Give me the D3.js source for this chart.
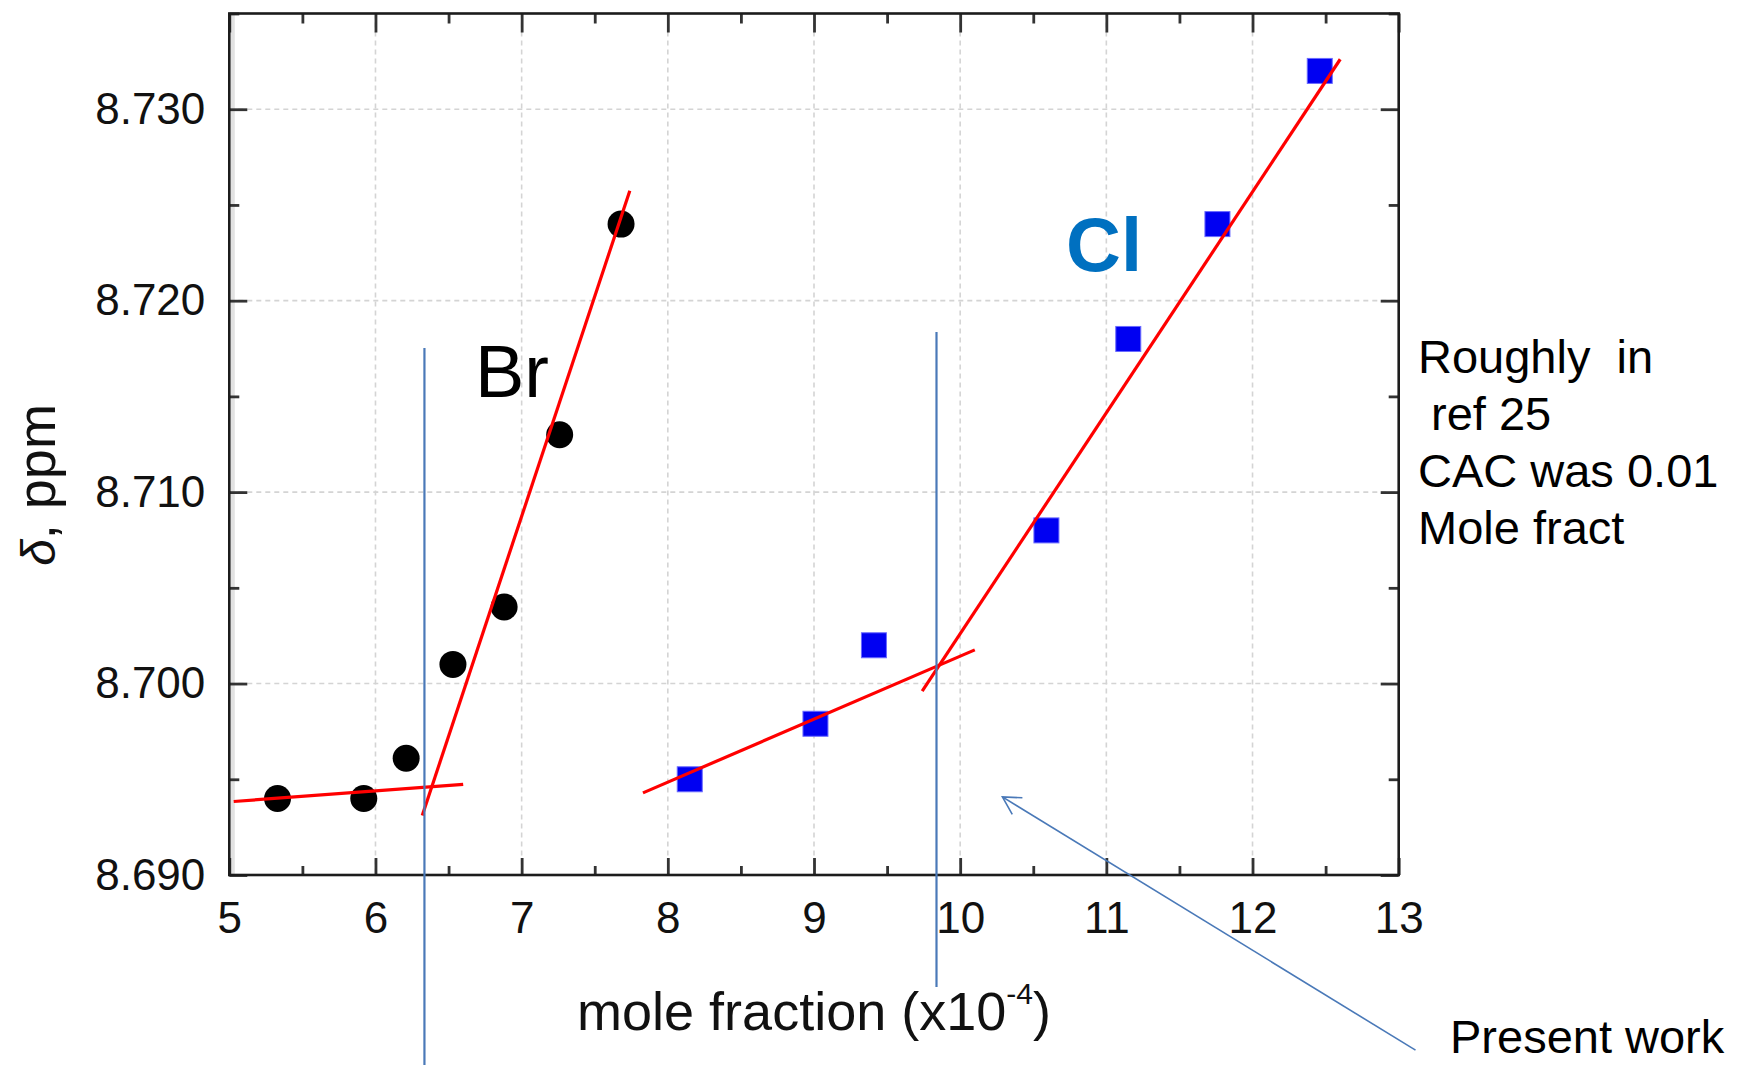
<!DOCTYPE html>
<html>
<head>
<meta charset="utf-8">
<script src="https://cdn.jsdelivr.net/npm/d3@7"></script>
<style>
  html, body { margin: 0; padding: 0; background: #ffffff; }
  svg { display: block; }
  text { font-family: "Liberation Sans", Arial, Helvetica, sans-serif; }
</style>
</head>
<body>
<svg id="chart" width="1737" height="1065"></svg>
<script>
// Axis ticks
const xTicks = [5, 6, 7, 8, 9, 10, 11, 12, 13];
const yTicks = [8.690, 8.700, 8.710, 8.720, 8.730];
const xMinorTicks = [5.5, 6.5, 7.5, 8.5, 9.5, 10.5, 11.5, 12.5];
const yMinorTicks = [8.695, 8.705, 8.715, 8.725, 8.735];

// Chemical shift vs. mole fraction (x10^-4)
const brX = [5.33, 5.92, 6.21, 6.53, 6.88, 7.26, 7.68];
const brY = [8.6940, 8.6940, 8.6961, 8.7010, 8.7040, 8.7130, 8.7240];
const clX = [8.15, 9.01, 9.41, 10.59, 11.15, 11.76, 12.46];
const clY = [8.6950, 8.6979, 8.7020, 8.7080, 8.7180, 8.7240, 8.7320];

// Linear fits below and above the break (endpoints as [x, y])
const brLowFit  = [[5.03, 8.69384], [6.60, 8.69473]];
const brHighFit = [[6.32, 8.69311], [7.74, 8.72574]];
const clLowFit  = [[7.83, 8.69429], [10.10, 8.70176]];
const clHighFit = [[9.74, 8.69960], [12.60, 8.73261]];

// CAC markers: x position and vertical extent
const cacX      = [6.335, 9.838];
const cacTop    = [8.71753, 8.71836];
const cacBottom = [8.68007, 8.68415];

// Pointer from the "Present work" note (tail -> head)
const arrowFrom = [13.115, 8.68085];
const arrowTo   = [10.289, 8.69408];

const noteLines = ["Roughly  in", " ref 25", "CAC was 0.01", "Mole fract"];

const svg = d3.select("#chart");

const x = d3.scaleLinear().domain([5, 13]).range([229.3, 1398.7]);
const y = d3.scaleLinear().domain([8.690, 8.735]).range([875, 13.5]);

const [x0, x1] = x.range();
const [y0, y1] = y.range();

// Grid
const grid = svg.append("g").attr("class", "grid")
  .attr("stroke", "#d4d4d4").attr("stroke-width", 1.6).attr("stroke-dasharray", "5,4");
grid.selectAll("line.v").data(xTicks.slice(1, -1)).join("line")
  .attr("class", "v")
  .attr("x1", d => x(d)).attr("x2", d => x(d))
  .attr("y1", y1).attr("y2", y0);
grid.selectAll("line.h").data(yTicks.slice(1)).join("line")
  .attr("class", "h")
  .attr("x1", x0).attr("x2", x1)
  .attr("y1", d => y(d)).attr("y2", d => y(d));

// Faint inner shade along the left spine
svg.append("line")
  .attr("x1", x0 + 3.5).attr("x2", x0 + 3.5)
  .attr("y1", y1).attr("y2", y0)
  .attr("stroke", "#e2e2e2").attr("stroke-width", 4);

// Axes with inward ticks on all four sides
function styleAxis(g) {
  g.select(".domain").remove();
  g.selectAll(".tick line").attr("stroke", "#333").attr("stroke-width", 2.8);
  g.selectAll(".tick text")
    .attr("fill", "#111")
    .style("font-family", "'Liberation Sans', Arial, sans-serif")
    .style("font-size", "44px");
}

svg.append("g").attr("transform", `translate(0,${y0})`)
  .call(d3.axisBottom(x).tickValues(xTicks).tickFormat(d3.format("d")).tickSize(-17).tickPadding(27))
  .call(styleAxis);
svg.append("g").attr("transform", `translate(0,${y0})`)
  .call(d3.axisBottom(x).tickValues(xMinorTicks).tickFormat("").tickSize(-9))
  .call(styleAxis);
svg.append("g").attr("transform", `translate(0,${y1})`)
  .call(d3.axisTop(x).tickValues(xTicks).tickFormat("").tickSize(-19))
  .call(styleAxis);
svg.append("g").attr("transform", `translate(0,${y1})`)
  .call(d3.axisTop(x).tickValues(xMinorTicks).tickFormat("").tickSize(-10))
  .call(styleAxis);

svg.append("g").attr("transform", `translate(${x0},0)`)
  .call(d3.axisLeft(y).tickValues(yTicks).tickFormat(d3.format(".3f")).tickSize(-18).tickPadding(24))
  .call(styleAxis);
svg.append("g").attr("transform", `translate(${x0},0)`)
  .call(d3.axisLeft(y).tickValues(yMinorTicks).tickFormat("").tickSize(-10))
  .call(styleAxis);
svg.append("g").attr("transform", `translate(${x1},0)`)
  .call(d3.axisRight(y).tickValues(yTicks).tickFormat("").tickSize(-18))
  .call(styleAxis);
svg.append("g").attr("transform", `translate(${x1},0)`)
  .call(d3.axisRight(y).tickValues(yMinorTicks).tickFormat("").tickSize(-10))
  .call(styleAxis);

// Frame
svg.append("rect")
  .attr("x", x0).attr("y", y1)
  .attr("width", x1 - x0).attr("height", y0 - y1)
  .attr("fill", "none").attr("stroke", "#1c1c1c").attr("stroke-width", 2.6);

// Data markers
const brData = brX.map((v, i) => ({ x: v, y: brY[i] }));
const clData = clX.map((v, i) => ({ x: v, y: clY[i] }));

svg.append("g").selectAll("circle").data(brData).join("circle")
  .attr("cx", d => x(d.x)).attr("cy", d => y(d.y)).attr("r", 13.5)
  .attr("fill", "#000");

const sq = 25;
svg.append("g").selectAll("rect").data(clData).join("rect")
  .attr("x", d => x(d.x) - sq / 2).attr("y", d => y(d.y) - sq / 2)
  .attr("width", sq).attr("height", sq)
  .attr("fill", "#0000f2").attr("stroke", "#6a6aff").attr("stroke-width", 1);

// Fit lines
const fitLine = d3.line().x(d => x(d[0])).y(d => y(d[1]));
svg.append("g").selectAll("path").data([brLowFit, brHighFit, clLowFit, clHighFit]).join("path")
  .attr("d", fitLine)
  .attr("fill", "none").attr("stroke", "#ff0000").attr("stroke-width", 3.2);

// CAC vertical markers
const annBlue = "#4a79b8";
svg.append("g").selectAll("line").data(cacX).join("line")
  .attr("x1", d => x(d)).attr("x2", d => x(d))
  .attr("y1", (d, i) => y(cacTop[i])).attr("y2", (d, i) => y(cacBottom[i]))
  .attr("stroke", annBlue).attr("stroke-width", 2.2);

// Pointer with open arrowhead
const ax0 = x(arrowFrom[0]), ay0 = y(arrowFrom[1]);
const ax1 = x(arrowTo[0]),   ay1 = y(arrowTo[1]);
const ang = Math.atan2(ay0 - ay1, ax0 - ax1);
const headLen = 20, headSpread = 29 * Math.PI / 180;
svg.append("line")
  .attr("x1", ax0).attr("y1", ay0).attr("x2", ax1).attr("y2", ay1)
  .attr("stroke", annBlue).attr("stroke-width", 1.6);
svg.append("path")
  .attr("d", `M${ax1 + headLen * Math.cos(ang - headSpread)},${ay1 + headLen * Math.sin(ang - headSpread)}`
           + `L${ax1},${ay1}`
           + `L${ax1 + headLen * Math.cos(ang + headSpread)},${ay1 + headLen * Math.sin(ang + headSpread)}`)
  .attr("fill", "none").attr("stroke", annBlue).attr("stroke-width", 1.6);

// Series labels
svg.append("text").attr("x", 475).attr("y", 397)
  .attr("font-size", 74).attr("fill", "#000").text("Br");
svg.append("text").attr("x", 1066).attr("y", 271)
  .attr("font-size", 76).attr("font-weight", "bold").attr("fill", "#0070c0").text("Cl");

// Axis titles
const xt = svg.append("text")
  .attr("x", 814).attr("y", 1030)
  .attr("text-anchor", "middle").attr("font-size", 54).attr("fill", "#111");
xt.append("tspan").text("mole fraction (x10");
xt.append("tspan").attr("dy", -26).attr("font-size", 30).text("-4");
xt.append("tspan").attr("dy", 26).text(")");

const yt = svg.append("text")
  .attr("transform", "translate(55,485) rotate(-90)")
  .attr("text-anchor", "middle").attr("font-size", 54).attr("fill", "#111");
yt.append("tspan").attr("font-style", "italic").attr("font-size", 48).text("δ");
yt.append("tspan").text(", ppm");

// Side note
svg.append("g").selectAll("text").data(noteLines).join("text")
  .attr("x", 1418).attr("y", (d, i) => 372.7 + i * 57.2)
  .attr("font-size", 47).attr("fill", "#000")
  .style("white-space", "pre")
  .text(d => d);

svg.append("text").attr("x", 1450).attr("y", 1053)
  .attr("font-size", 47).attr("fill", "#000").text("Present work");
</script>
</body>
</html>
